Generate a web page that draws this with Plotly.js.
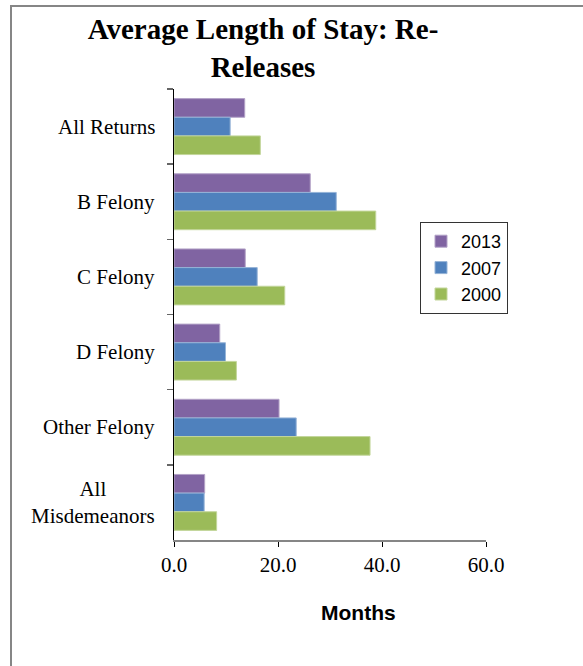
<!DOCTYPE html>
<html>
<head>
<meta charset="utf-8">
<script src="https://cdn.plot.ly/plotly-3.0.1.min.js"></script>
<style>
  html, body { margin: 0; padding: 0; background: #fff; overflow: hidden; }
  #frame { position: absolute; left: 10px; top: 5px; width: 700px; height: 800px;
           border-left: 2px solid #868686; border-top: 2px solid #868686; }
  #chart { position: absolute; left: 0; top: 0; width: 583px; height: 666px; }
</style>
</head>
<body>
<div id="frame"></div>
<div id="chart"></div>
<script>
// Data
const categories = ["All Returns", "B Felony", "C Felony", "D Felony", "Other Felony", "All<br>Misdemeanors"];
const seriesNames = ["2013", "2007", "2000"];
const values2013 = [13.6, 26.2, 13.7, 8.8, 20.2, 5.9];
const values2007 = [10.8, 31.2, 16.0, 9.9, 23.5, 5.8];
const values2000 = [16.6, 38.8, 21.3, 12.0, 37.7, 8.2];
const xTickValues = [0, 20, 40, 60];
const xAxisTitle = "Months";

const colors = ["#8064A2", "#4F81BD", "#9BBB59"];
const edgeColors = ["#B3A2C7", "#95B3D7", "#C3D69B"];
const allValues = [values2013, values2007, values2000];

const traces = seriesNames.map((name, i) => ({
  type: "bar",
  orientation: "h",
  name: name,
  y: categories,
  x: allValues[i],
  marker: { color: colors[i], line: { color: edgeColors[i], width: 1 } },
  hoverinfo: "skip"
}));

const W = 583, H = 666;
const M = { l: 174, r: 97, t: 89, b: 126 };
const plotW = W - M.l - M.r, plotH = H - M.t - M.b;

const labelAnnotations = categories.map(c => ({
  xref: "paper", yref: "y",
  x: 0, y: c,
  xanchor: "right", yanchor: "middle",
  xshift: -17,
  align: "center",
  showarrow: false,
  text: c,
  font: { family: "Liberation Serif, Times New Roman, serif", size: 21, color: "#000" }
}));

// x-axis title placed where the reference shows it (off-centre)
labelAnnotations.push({
  xref: "paper", yref: "paper",
  x: (358 - M.l) / plotW, y: (H - M.b - 612) / plotH,
  xanchor: "center", yanchor: "middle",
  showarrow: false,
  text: "<b>" + xAxisTitle + "</b>",
  font: { family: "Liberation Sans, Arial, sans-serif", size: 21, color: "#000" }
});

const layout = {
  width: W, height: H,
  paper_bgcolor: "rgba(0,0,0,0)",
  plot_bgcolor: "rgba(0,0,0,0)",
  margin: { l: M.l, r: M.r, t: M.t, b: M.b, pad: 0, autoexpand: false },
  showlegend: true,
  barmode: "group",
  bargap: 0.256,
  bargroupgap: 0,
  title: {
    text: "<b>Average Length of Stay: Re-<br>Releases</b>",
    font: { family: "Liberation Serif, Times New Roman, serif", size: 29, color: "#000" },
    xref: "container", yref: "container",
    x: 263 / W, xanchor: "center",
    y: 1 - 39 / H, yanchor: "top"
  },
  xaxis: {
    range: [0, 60],
    tickvals: xTickValues,
    tickformat: ".1f",
    showgrid: false,
    zeroline: false,
    showline: true,
    linecolor: "#868686",
    linewidth: 2,
    ticks: "outside",
    ticklen: 5,
    tickcolor: "#000",
    tickwidth: 1,
    tickfont: { family: "Liberation Serif, Times New Roman, serif", size: 21, color: "#000" },
    automargin: false,
    fixedrange: true
  },
  yaxis: {
    type: "category",
    categoryorder: "array",
    categoryarray: categories,
    autorange: "reversed",
    showgrid: false,
    zeroline: false,
    showline: true,
    linecolor: "#000",
    linewidth: 1.3,
    ticks: "outside",
    tickson: "boundaries",
    ticklen: 6,
    tickcolor: "#666",
    tickwidth: 1.5,
    showticklabels: false,
    automargin: false,
    fixedrange: true
  },
  legend: {
    xref: "paper", yref: "paper",
    x: (420 - M.l) / plotW, xanchor: "left",
    y: (H - M.b - 222) / plotH, yanchor: "top",
    bgcolor: "#fff",
    bordercolor: "#333",
    borderwidth: 1,
    font: { family: "Liberation Sans, Arial, sans-serif", size: 18, color: "#000" },
    traceorder: "normal"
  },
  annotations: labelAnnotations
};

Plotly.newPlot("chart", traces, layout, { displayModeBar: false, staticPlot: true });
</script>
</body>
</html>
